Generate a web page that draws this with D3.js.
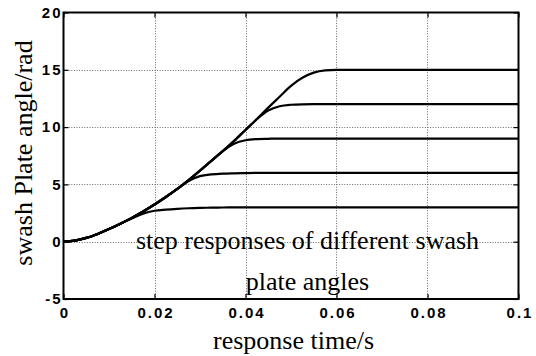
<!DOCTYPE html>
<html>
<head>
<meta charset="utf-8">
<script src="https://cdn.jsdelivr.net/npm/d3@7"></script>
<style>
  html, body { margin: 0; padding: 0; background: #fff; }
  svg { display: block; }
</style>
</head>
<body>
<script>
// Sample times (s) shared by every response curve
const timeS = [0, 0.0025, 0.005, 0.0075, 0.01, 0.0125, 0.015, 0.0175, 0.02, 0.0225,
  0.025, 0.0275, 0.03, 0.0325, 0.035, 0.0375, 0.04, 0.0425, 0.045, 0.0475,
  0.05, 0.0525, 0.055, 0.0575, 0.06, 0.07, 0.08, 0.09, 0.1];

// Swash plate angle responses (rad) for each commanded step
const resp3 = [0, 0.1, 0.33, 0.68, 1.1, 1.57, 2.02, 2.45, 2.7, 2.8,
  2.87, 2.92, 2.95, 2.97, 2.985, 2.995, 3, 3, 3, 3,
  3, 3, 3, 3, 3, 3, 3, 3, 3];
const resp6 = [0, 0.1, 0.33, 0.68, 1.1, 1.57, 2.08, 2.64, 3.25, 3.9,
  4.6, 5.3, 5.72, 5.87, 5.94, 5.97, 5.99, 6, 6, 6,
  6, 6, 6, 6, 6, 6, 6, 6, 6];
const resp9 = [0, 0.1, 0.33, 0.68, 1.1, 1.57, 2.08, 2.64, 3.25, 3.9,
  4.6, 5.38, 6.2, 7.05, 7.9, 8.55, 8.85, 8.95, 8.98, 9,
  9, 9, 9, 9, 9, 9, 9, 9, 9];
const resp12 = [0, 0.1, 0.33, 0.68, 1.1, 1.57, 2.08, 2.64, 3.25, 3.9,
  4.6, 5.38, 6.2, 7.05, 7.9, 8.8, 9.75, 10.7, 11.45, 11.82,
  11.95, 11.99, 12, 12, 12, 12, 12, 12, 12];
const resp15 = [0, 0.1, 0.33, 0.68, 1.1, 1.57, 2.08, 2.64, 3.25, 3.9,
  4.6, 5.38, 6.2, 7.05, 7.9, 8.8, 9.75, 10.7, 11.7, 12.65,
  13.6, 14.3, 14.75, 14.95, 15, 15, 15, 15, 15];

const xTicks = [0, 0.02, 0.04, 0.06, 0.08, 0.1];
const xTickLabels = ["0", "0.02", "0.04", "0.06", "0.08", "0.1"];
const yTicks = [-5, 0, 5, 10, 15, 20];
const yTickLabels = ["-5", "0", "5", "10", "15", "20"];

const xTitle = "response time/s";
const yTitle = "swash Plate angle/rad";
const noteLines = ["step responses of different swash", "plate angles"];

const W = 536, H = 356;
const L = 63.5, R = 518.5, T = 12.5, B = 299;

const svg = d3.select("body").append("svg")
  .attr("width", W).attr("height", H);

const x = d3.scaleLinear().domain([0, 0.1]).range([L, R]);
const y = d3.scaleLinear().domain([-5, 20]).range([B, T]);

// Dotted grid
const grid = svg.append("g")
  .attr("stroke", "#6a6a6a")
  .attr("stroke-width", 1)
  .attr("stroke-dasharray", "1,1.6");
grid.selectAll("line.gx").data(xTicks.slice(1, -1)).join("line")
  .attr("x1", d => Math.round(x(d)) + 0.5).attr("x2", d => Math.round(x(d)) + 0.5)
  .attr("y1", T).attr("y2", B);
grid.selectAll("line.gy").data(yTicks.slice(1, -1)).join("line")
  .attr("x1", L).attr("x2", R)
  .attr("y1", d => Math.round(y(d)) + 0.5).attr("y2", d => Math.round(y(d)) + 0.5);

// Response curves
const series = [resp3, resp6, resp9, resp12, resp15];
const line = d3.line()
  .x((d, i) => x(timeS[i]))
  .y(d => y(d))
  .curve(d3.curveMonotoneX);
svg.append("g").selectAll("path").data(series).join("path")
  .attr("d", line)
  .attr("fill", "none")
  .attr("stroke", "#000")
  .attr("stroke-width", 2.2)
  .attr("stroke-linejoin", "round");

// Axes with inward ticks
const tickFont = g => g.selectAll("text")
  .attr("font-family", "'Liberation Sans', Arial, sans-serif")
  .attr("font-weight", "bold")
  .attr("font-size", 15)
  .attr("letter-spacing", 2)
  .attr("fill", "#000");

const axB = svg.append("g").attr("transform", `translate(0,${B})`)
  .call(d3.axisBottom(x).tickValues(xTicks)
    .tickFormat((d, i) => xTickLabels[i])
    .tickSizeInner(-5).tickSizeOuter(0).tickPadding(8));
axB.call(tickFont);
axB.selectAll("text").attr("dx", 1);

const axL = svg.append("g").attr("transform", `translate(${L},0)`)
  .call(d3.axisLeft(y).tickValues(yTicks)
    .tickFormat((d, i) => yTickLabels[i])
    .tickSizeInner(-5).tickSizeOuter(0).tickPadding(1));
axL.call(tickFont);

svg.append("g").attr("transform", `translate(0,${T})`)
  .call(d3.axisTop(x).tickValues(xTicks).tickFormat("")
    .tickSizeInner(-5).tickSizeOuter(0));
svg.append("g").attr("transform", `translate(${R},0)`)
  .call(d3.axisRight(y).tickValues(yTicks).tickFormat("")
    .tickSizeInner(-5).tickSizeOuter(0));

svg.selectAll(".domain").remove();
svg.selectAll(".tick line").attr("stroke", "#000").attr("stroke-width", 1.2);

// Frame
svg.append("rect")
  .attr("x", L).attr("y", T)
  .attr("width", R - L).attr("height", B - T)
  .attr("fill", "none")
  .attr("stroke", "#000")
  .attr("stroke-width", 2);

// Titles
const serif = "'Liberation Serif', 'Times New Roman', serif";
svg.append("text")
  .attr("x", 293.5).attr("y", 349)
  .attr("text-anchor", "middle")
  .attr("font-family", serif).attr("font-size", 26)
  .text(xTitle);

svg.append("text")
  .attr("transform", "translate(32,153) rotate(-90)")
  .attr("text-anchor", "middle")
  .attr("font-family", serif).attr("font-size", 26)
  .text(yTitle);

// Annotation inside the plot
svg.append("g").selectAll("text").data(noteLines).join("text")
  .attr("x", 307.5)
  .attr("y", (d, i) => 249 + i * 40.5)
  .attr("text-anchor", "middle")
  .attr("font-family", serif).attr("font-size", 26)
  .attr("fill", "#000")
  .text(d => d);
</script>
</body>
</html>
